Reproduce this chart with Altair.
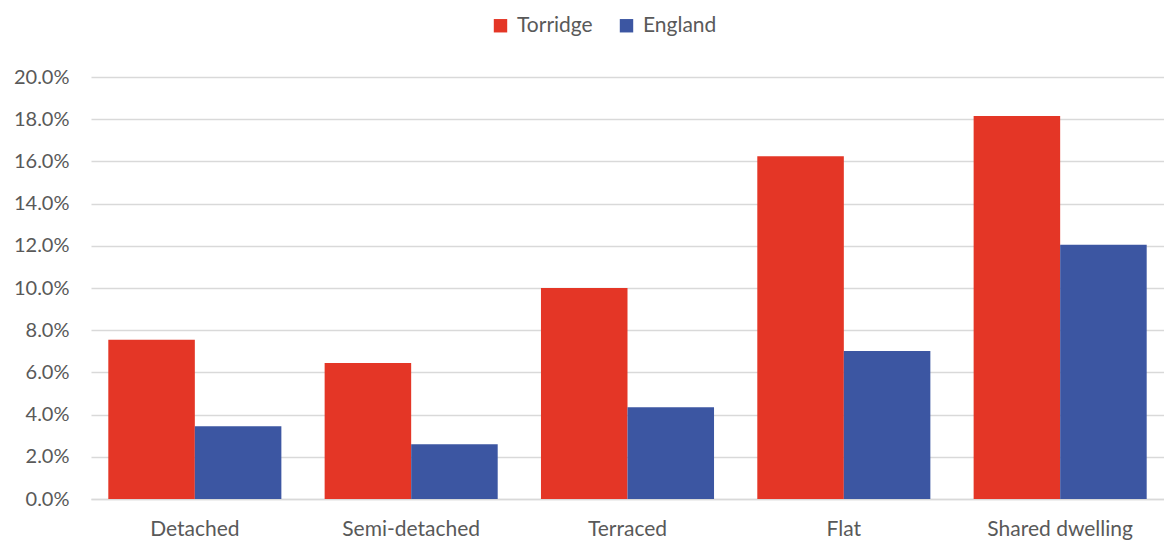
import altair as alt
import pandas as pd

categories = ["Detached", "Semi-detached", "Terraced", "Flat", "Shared dwelling"]
series = ["Torridge", "England"]
torridge = [7.55, 6.45, 10.0, 16.25, 18.15]
england = [3.45, 2.6, 4.35, 7.02, 12.05]
colors = ["#E43626", "#3C56A2"]

rows = []
for c, t, e in zip(categories, torridge, england):
    rows.append({"category": c, "series": "Torridge", "value": t / 100})
    rows.append({"category": c, "series": "England", "value": e / 100})
df = pd.DataFrame(rows)

FONT = "Lato"
GRAY = "#595959"

chart = alt.Chart(df).mark_bar().encode(
    x=alt.X("category:N", sort=categories, title=None,
            scale=alt.Scale(paddingInner=0.2, paddingOuter=0.08),
            axis=alt.Axis(labelAngle=0, labelFontSize=21, labelColor=GRAY, labelFont=FONT,
                          labelPadding=19, ticks=False, domainColor="#d9d9d9", domainWidth=1.5)),
    xOffset=alt.XOffset("series:N", sort=series, scale=alt.Scale(paddingInner=0, paddingOuter=0)),
    y=alt.Y("value:Q", title=None,
            scale=alt.Scale(domain=[0, 0.2], nice=False),
            axis=alt.Axis(format=".1%", values=[i / 50 for i in range(11)], labelFontSize=20,
                          labelColor=GRAY, labelFont=FONT, labelPadding=22, ticks=False,
                          domain=False, gridColor="#d9d9d9", gridWidth=1.5)),
    color=alt.Color("series:N", sort=series,
                    scale=alt.Scale(domain=series, range=colors),
                    legend=alt.Legend(title=None, orient="none", legendX=399, legendY=-62,
                                      direction="horizontal", symbolType="square", symbolSize=180,
                                      symbolStrokeWidth=0, labelFontSize=21, labelColor=GRAY,
                                      labelFont=FONT, columnPadding=23, labelOffset=6)),
).properties(
    width=1073, height=422,
    autosize=alt.AutoSizeParams(type="none"),
    padding={"left": 83, "top": 69, "right": 0, "bottom": 44},
).configure_view(stroke=None)

chart.save("out.html", embed_options={"renderer": "svg", "actions": False})
